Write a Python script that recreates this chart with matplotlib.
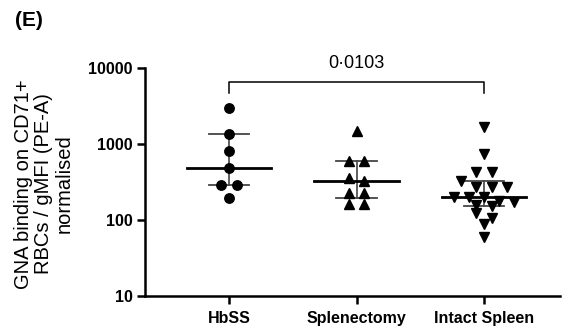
import numpy as np
import matplotlib.pyplot as plt

plt.rcParams['font.family'] = ['Liberation Sans', 'DejaVu Sans']

groups = ['HbSS', 'Splenectomy', 'Intact Spleen']
hbss = [2950, 1350, 817, 487, 286, 286, 195]
splenectomy = [1500, 590, 590, 354, 325, 230, 230, 160, 160]
intact = [1660, 740, 433, 433, 330, 271, 271, 271, 199, 199, 199, 180, 174,
          157, 152, 123, 105, 88, 59]
y_ticks = [10, 100, 1000, 10000]
p_value = '0·0103'
markers = ['o', '^', 'v']


def swarm(values, row_gap=0.09, step=0.118):
    # points close in log value share a row and are spread symmetrically
    logs = np.log10(values)
    order = np.argsort(-logs, kind='stable')
    rows = []
    for i in order:
        if rows and logs[rows[-1][0]] - logs[i] <= row_gap:
            rows[-1].append(i)
        else:
            rows.append([i])
    off = np.zeros(len(values))
    for row in rows:
        n = len(row)
        for k, i in enumerate(row):
            off[i] = (k - (n - 1) / 2) * step
    return off


fig = plt.figure(figsize=(5.68, 3.31), dpi=100)
ax = fig.add_axes([145 / 568, 35 / 331, 415 / 568, 228 / 331])
ax.set_yscale('log')
ax.set_ylim(10, 10000)
ax.set_xlim(-0.659, 2.596)

for x, vals, m in zip(range(3), [hbss, splenectomy, intact], markers):
    vals = np.array(vals, dtype=float)
    q1, med, q3 = np.percentile(vals, [25, 50, 75], method='weibull')
    ax.plot([x, x], [q1, q3], color='#444444', lw=1.2, zorder=2)
    for q in (q1, q3):
        ax.plot([x - 0.16, x + 0.16], [q, q], color='#444444', lw=1.3, zorder=2)
    ax.plot([x - 0.33, x + 0.33], [med, med], color='black', lw=2.0, zorder=2)
    ax.plot(x + swarm(vals), vals, m, color='black', ms=6.8, zorder=3,
            linestyle='none')

# significance bracket
ax.plot([0, 0, 2, 2], [4700, 6600, 6600, 4700], color='black', lw=1.1,
        clip_on=False)
ax.text(1, 11600, p_value, ha='center', va='center', fontsize=13,
        clip_on=False)

ax.set_yticks(y_ticks)
ax.set_yticklabels([str(t) for t in y_ticks])
ax.yaxis.set_minor_locator(plt.NullLocator())
ax.set_xticks(range(3))
ax.set_xticklabels(groups)
for lab in ax.get_xticklabels() + ax.get_yticklabels():
    lab.set_fontweight('bold')
    lab.set_fontsize(11.5)
ax.tick_params(axis='both', length=6, width=1.8, pad=3)
ax.tick_params(axis='x', pad=5)

for s in ['top', 'right']:
    ax.spines[s].set_visible(False)
for s in ['left', 'bottom']:
    ax.spines[s].set_linewidth(1.8)

fig.text(44 / 568, 1 - 184 / 331,
         'GNA binding on CD71+\nRBCs / gMFI (PE-A)\nnormalised',
         rotation=90, ha='center', va='center', multialignment='center',
         fontsize=14.5, linespacing=1.1)
fig.text(29 / 568, 1 - 20 / 331, '(E)', ha='center', va='center',
         fontsize=15, fontweight='bold')

fig.savefig('out.png', dpi=100)
